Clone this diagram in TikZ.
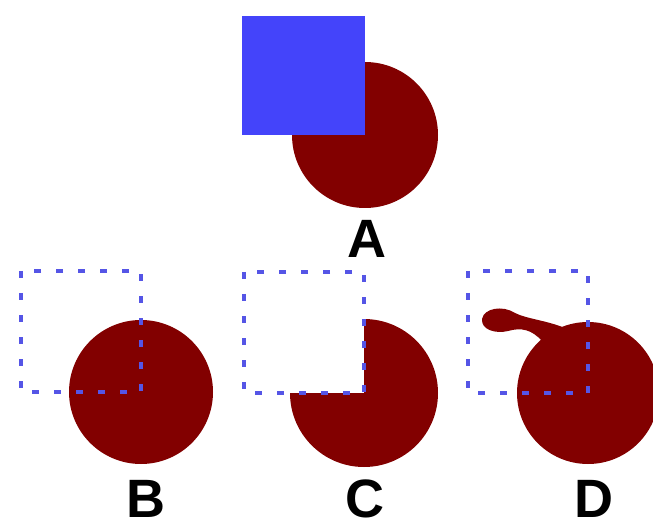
\documentclass[tikz,border=0pt]{standalone}
\usepackage{fontspec}
\setmainfont{Liberation Sans}
\usepackage{xcolor}
\usepackage{tikz}

\definecolor{sqblue}{RGB}{68,68,250}
\definecolor{blood}{RGB}{130,0,0}
\definecolor{dashblue}{RGB}{85,85,230}

\begin{document}
\begin{tikzpicture}[
    x=1pt, y=1pt,
    solidsq/.style={fill=sqblue},
    ghostsq/.style={draw=dashblue, line width=3.5pt, dash pattern=on 7pt off 15pt},
    disc/.style={fill=blood},
    tag/.style={font=\fontsize{54}{54}\selectfont\bfseries, text=black, inner sep=0pt}
]
\useasboundingbox (0,0) rectangle (653,528);
\clip (0,0) rectangle (653,528);

% A: filled square over the disc
\coordinate (a_c) at (365,393);
\fill[disc] (a_c) circle[radius=73];
\fill[solidsq] (242,512) rectangle (a_c);
\node[tag] (a_tag) at (367,289) {A};

% B: whole disc, dashed square on top
\coordinate (b_c) at (141,136);
\fill[disc] (b_c) circle[radius=72];
\draw[ghostsq] (21,257) rectangle (b_c);
\node[tag] (b_tag) at (146,29) {B};

% C: disc with the covered quarter cut away
\coordinate (c_c) at (364,135);
\fill[disc] (c_c) -- ++(0,74) arc[start angle=90, end angle=-180, radius=74] -- cycle;
\draw[ghostsq] (244,256) rectangle (c_c);
\node[tag] (c_tag) at (365,29) {C};

% D: disc with a drip pulled out to the left
\coordinate (d_c) at (588,135);
\fill[disc] (d_c) circle[radius=71];
\fill[disc] (565,200) .. controls (545,208) and (527,209) .. (515,215)
    .. controls (503,223) and (484,220) .. (482,209)
    .. controls (481,198) and (496,194) .. (508,197)
    .. controls (522,201) and (532,198) .. (542,187) -- (560,180) -- cycle;
\draw[ghostsq] (468,257) rectangle (d_c);
\node[tag] (d_tag) at (594,29) {D};

\end{tikzpicture}
\end{document}
